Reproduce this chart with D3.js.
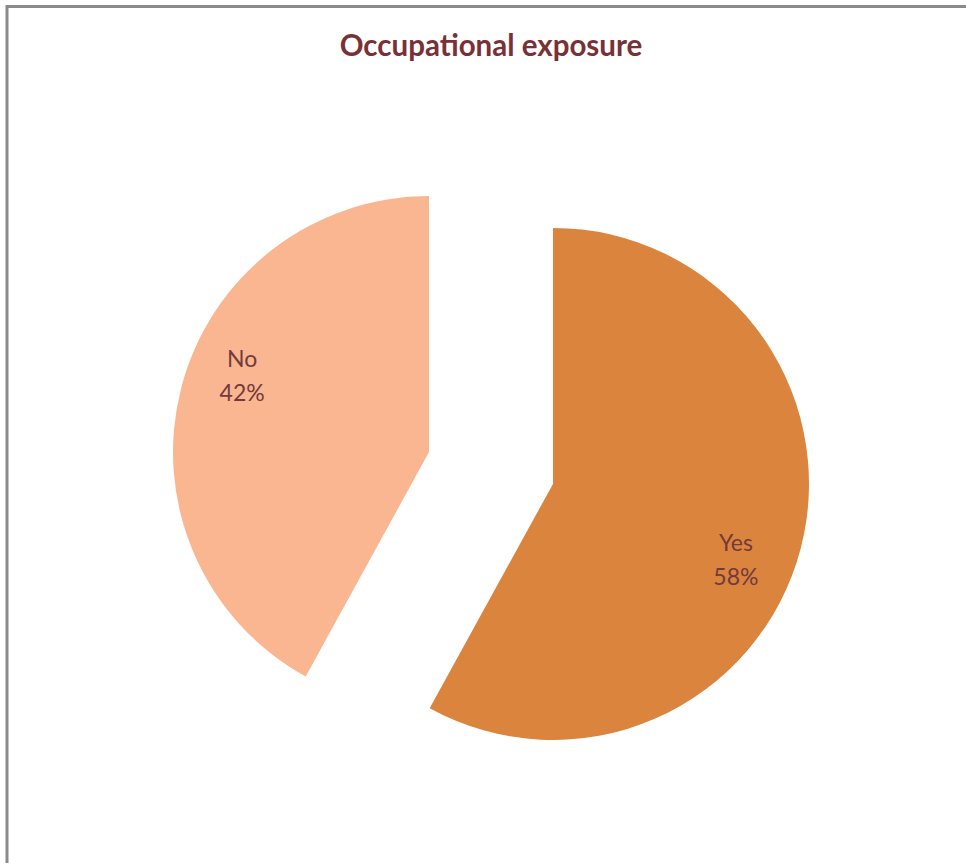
<!DOCTYPE html>
<html><head><meta charset="utf-8">
<script src="https://cdn.jsdelivr.net/npm/d3@7"></script>
<style>html,body{margin:0;padding:0;background:#fff;}svg{display:block;}</style>
</head><body>
<svg id="c" width="966" height="863"></svg>
<script>
const categories = ["Yes", "No"];
const values = [58, 42];
const colors = ["#DB843D", "#F9B690"];
const title = "Occupational exposure";

const svg = d3.select("#c");
// chart frame (top and left edges visible)
svg.append("line").attr("x1", 6).attr("x2", 966).attr("y1", 6.5).attr("y2", 6.5)
  .attr("stroke", "#8a8a8a").attr("stroke-width", 3);
svg.append("line").attr("x1", 7).attr("x2", 7).attr("y1", 5).attr("y2", 863)
  .attr("stroke", "#8a8a8a").attr("stroke-width", 3);

svg.append("text").attr("x", 491).attr("y", 56).attr("text-anchor", "middle")
  .attr("font-family", "Lato, 'Open Sans', sans-serif").attr("font-weight", "bold")
  .attr("font-size", 29.5).attr("fill", "#773137").text(title);

const cx = 491, cy = 468, R = 256, explode = 64, labelR = 200, labelShift = 8 * Math.PI / 180;
const pie = d3.pie().sort(null).value(d => d)(values);
const arc = d3.arc().innerRadius(0).outerRadius(R);
const g = svg.append("g").attr("transform", `translate(${cx},${cy})`);

pie.forEach((p, i) => {
  const mid = (p.startAngle + p.endAngle) / 2;
  const dx = Math.sin(mid) * explode, dy = -Math.cos(mid) * explode;
  const sg = g.append("g").attr("transform", `translate(${dx},${dy})`);
  sg.append("path").attr("d", arc(p)).attr("fill", colors[i]);
  const la = mid + labelShift;
  const lx = Math.sin(la) * labelR - 2, ly = -Math.cos(la) * labelR;
  const t = sg.append("text").attr("text-anchor", "middle")
    .attr("font-family", "Lato, 'Open Sans', sans-serif").attr("font-size", 23)
    .attr("fill", "#733a3c");
  t.append("tspan").attr("x", lx).attr("y", ly - 9).text(categories[i]);
  t.append("tspan").attr("x", lx).attr("y", ly + 25).text(values[i] + "%");
});
</script>
</body></html>
